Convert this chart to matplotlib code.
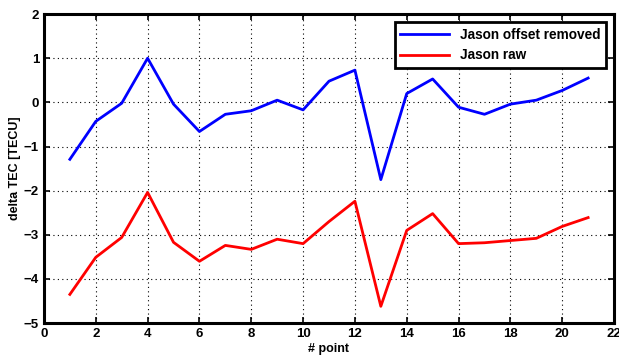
import numpy as np
import matplotlib
matplotlib.use("Agg")
import matplotlib.pyplot as plt

plt.rcParams['font.family'] = ['Liberation Sans', 'DejaVu Sans']

# data
points = list(range(1, 22))
offset_removed = [-1.29, -0.43, -0.02, 1.0, -0.04, -0.66, -0.27, -0.19, 0.05, -0.17, 0.48,
                  0.73, -1.75, 0.2, 0.53, -0.11, -0.27, -0.04, 0.05, 0.27, 0.55]
raw = [-4.35, -3.51, -3.06, -2.04, -3.17, -3.6, -3.24, -3.33, -3.1, -3.2, -2.7,
       -2.24, -4.62, -2.9, -2.52, -3.2, -3.18, -3.13, -3.08, -2.81, -2.61]

fig = plt.figure(figsize=(6.19, 3.61), dpi=100)
ax = fig.add_axes([0.071, 0.105, 0.921, 0.856])

ax.plot(points, offset_removed, color='#0000ff', lw=2, label='Jason offset removed')
ax.plot(points, raw, color='#ff0000', lw=2, label='Jason raw')

ax.set_xlim(0, 22)
ax.set_ylim(-5, 2)
ax.set_xticks(range(0, 23, 2))
ax.set_yticks(range(-5, 3))
ax.grid(True, color='black', linestyle=(0, (1, 3)), linewidth=0.8)
ax.tick_params(direction='in', length=4, width=1.2, labelsize=9.5, top=True, right=True)
for lbl in ax.get_xticklabels() + ax.get_yticklabels():
    lbl.set_fontweight('bold')
for sp in ax.spines.values():
    sp.set_linewidth(2.2)

ax.set_xlabel('# point', fontsize=9, fontweight='bold', labelpad=2)
ax.set_ylabel('delta TEC [TECU]', fontsize=9, fontweight='bold', labelpad=2)

leg = ax.legend(loc='upper right', fancybox=False, framealpha=1, edgecolor='black',
                prop={'size': 9.8, 'weight': 'bold'}, handlelength=3.6, borderaxespad=0.6)
leg.get_frame().set_linewidth(2)

fig.savefig('out.png', dpi=100)
